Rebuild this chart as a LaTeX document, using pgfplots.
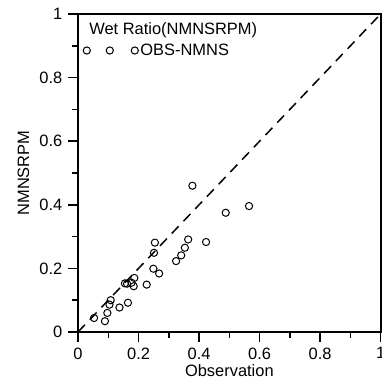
\documentclass[border=0pt]{standalone}
\usepackage{fontspec}
\setmainfont{Liberation Sans}
\usepackage{pgfplots}
\pgfplotsset{compat=1.18}
\begin{document}
\fontsize{16.5}{19.5}\selectfont
\begin{tikzpicture}
\begin{axis}[
  scale only axis,
  width=302.7bp, height=318bp,
  xmin=0, xmax=1, ymin=0, ymax=1,
  xtick={0,0.2,...,1}, ytick={0,0.2,...,1},
  minor x tick num=1, minor y tick num=1,
  xtick pos=bottom, ytick pos=left,
  tick align=outside,
  major tick length=10bp, minor tick length=6bp,
  every tick/.style={black, line width=1.5bp},
  axis line style={line width=1.8bp},
  /pgf/number format/assume math mode=true,
  tick label style={font=\fontsize{16.5}{19.5}\selectfont},
  label style={font=\fontsize{16.5}{19.5}\selectfont},
  xlabel={Observation}, ylabel={NMNSRPM},
  xlabel style={yshift=6bp},
  ylabel style={yshift=-1bp},
  legend cell align=left,
  legend style={draw=none, fill=none, at={(rel axis cs:0,1)}, anchor=north west,
    font=\fontsize{16.5}{19.5}\selectfont, xshift=2bp, yshift=-4bp, row sep=3bp},
  clip=false,
]
\addplot[black, dashed, line width=1.5bp, dash pattern=on 10bp off 7bp, forget plot] coordinates {(0,0) (1,1)};
\addlegendimage{empty legend}
\addlegendentry{\hspace*{-51bp}Wet Ratio(NMNSRPM)}
\addplot[only marks, mark=o, mark size=3.6bp, black, line width=1bp,
  legend image code/.code={\draw[mark repeat=1,mark phase=1] plot coordinates {(-48bp,0bp)(-25bp,0bp)(0bp,0bp)};}]
  coordinates {
  (0.378,0.460) (0.565,0.396) (0.488,0.375) (0.254,0.281) (0.364,0.291)
  (0.423,0.283) (0.353,0.265) (0.341,0.241) (0.324,0.223) (0.251,0.249)
  (0.249,0.199) (0.268,0.184) (0.227,0.149) (0.186,0.170) (0.177,0.155)
  (0.155,0.153) (0.162,0.152) (0.184,0.144) (0.165,0.092) (0.137,0.077)
  (0.108,0.100) (0.104,0.086) (0.097,0.060) (0.089,0.034) (0.053,0.044)
  };
\addlegendentry{OBS-NMNS}
\end{axis}
\pgfresetboundingbox
\useasboundingbox ([shift={(-78bp,-54bp)}]current axis.south west) rectangle ([shift={(1.3bp,14bp)}]current axis.north east);
\end{tikzpicture}
\end{document}
